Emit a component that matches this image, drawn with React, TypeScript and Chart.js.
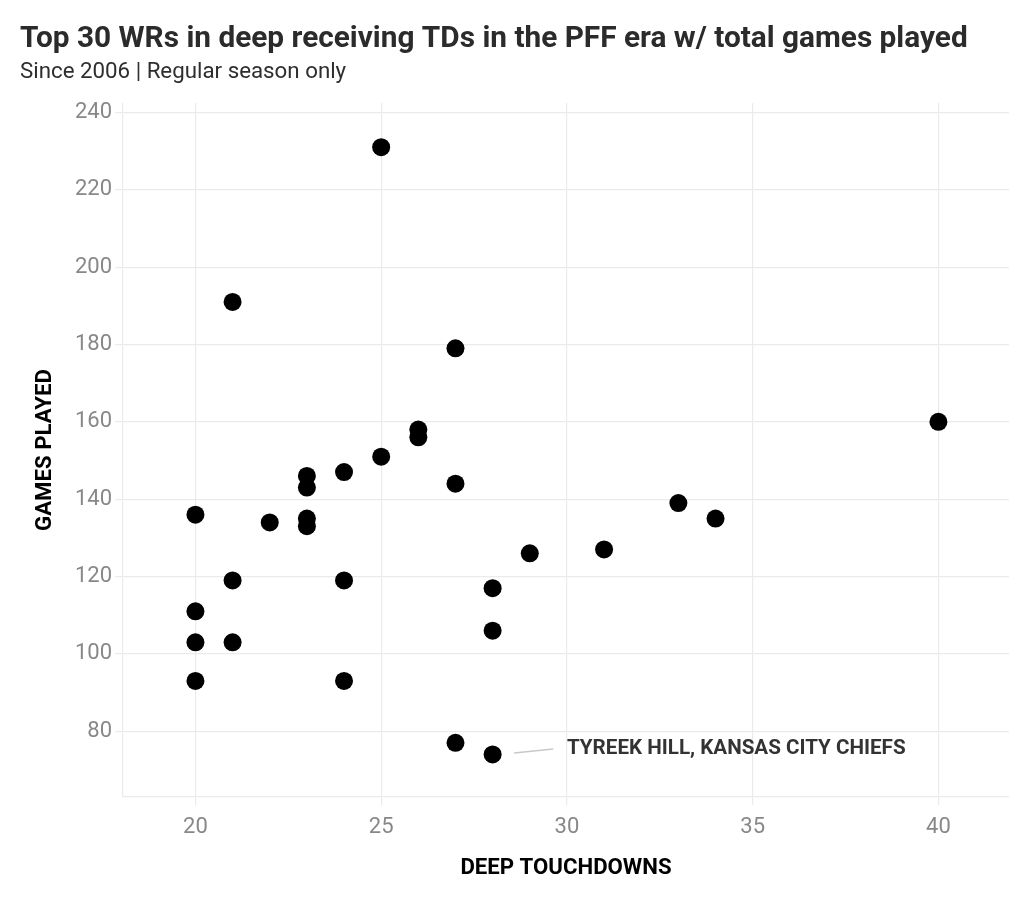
import React, { useEffect, useRef } from "react";
import { Chart, registerables } from "chart.js";

Chart.register(...registerables);

const TITLE = "Top 30 WRs in deep receiving TDs in the PFF era w/ total games played";
const SUBTITLE = "Since 2006 | Regular season only";
const X_LABEL = "DEEP TOUCHDOWNS";
const Y_LABEL = "GAMES PLAYED";

const deepTouchdowns = [25, 21, 27, 40, 26, 26, 25, 24, 23, 23, 27, 33, 20, 23, 34, 22, 23, 31, 29, 21, 24, 28, 20, 28, 20, 21, 20, 24, 27, 28];
const gamesPlayed = [231, 191, 179, 160, 158, 156, 151, 147, 146, 143, 144, 139, 136, 135, 135, 134, 133, 127, 126, 119, 119, 117, 111, 106, 103, 103, 93, 93, 77, 74];

const xTicks = [20, 25, 30, 35, 40];
const yTicks = [80, 100, 120, 140, 160, 180, 200, 220, 240];

const annotationText = "TYREEK HILL, KANSAS CITY CHIEFS";
const annotationPoint = { x: 30, y: 75.4 };
const annotationLine = [
  { x: 28.58, y: 74.4 },
  { x: 29.63, y: 75.4 },
];

const FONT = "Roboto, 'Noto Sans', sans-serif";
const GRID = "#ebebeb";

const annotationPlugin = {
  id: "hillLabel",
  afterDatasetsDraw(chart: any) {
    const { ctx, scales } = chart;
    const xs = scales.x;
    const ys = scales.y;
    ctx.save();
    ctx.strokeStyle = "#c8c8c8";
    ctx.lineWidth = 1.5;
    ctx.beginPath();
    ctx.moveTo(xs.getPixelForValue(annotationLine[0].x), ys.getPixelForValue(annotationLine[0].y));
    ctx.lineTo(xs.getPixelForValue(annotationLine[1].x), ys.getPixelForValue(annotationLine[1].y));
    ctx.stroke();
    ctx.fillStyle = "#333333";
    ctx.font = `bold 20.6px ${FONT}`;
    ctx.textAlign = "left";
    ctx.textBaseline = "middle";
    ctx.fillText(annotationText, xs.getPixelForValue(annotationPoint.x), ys.getPixelForValue(annotationPoint.y));
    ctx.restore();
  },
};

export default function App() {
  const canvasRef = useRef<HTMLCanvasElement | null>(null);

  useEffect(() => {
    document.body.style.margin = "0";
    const canvas = canvasRef.current;
    if (!canvas) return;
    const chart = new Chart(canvas, {
      type: "scatter",
      data: {
        datasets: [
          {
            label: "WRs",
            data: deepTouchdowns.map((x, i) => ({ x, y: gamesPlayed[i] })),
            backgroundColor: "#000000",
            borderWidth: 0,
            pointRadius: 9,
            pointHoverRadius: 9,
          },
        ],
      },
      options: {
        animation: false,
        responsive: false,
        devicePixelRatio: 1,
        layout: { padding: { left: 20, right: 15, top: 0, bottom: 0 } },
        plugins: {
          legend: { display: false },
          tooltip: { enabled: false },
          title: {
            display: true,
            text: TITLE,
            align: "start",
            color: "#2b2b2b",
            font: { family: FONT, size: 29.8, weight: "bold", lineHeight: 1.2 },
            padding: { top: 21.3, bottom: 0 },
          },
          subtitle: {
            display: true,
            text: SUBTITLE,
            align: "start",
            color: "#2e2e2e",
            font: { family: FONT, size: 22.3, weight: "normal", lineHeight: 1.2 },
            padding: { top: 2.3, bottom: 17 },
          },
        },
        scales: {
          x: {
            type: "linear",
            min: 18.05,
            max: 41.9,
            afterBuildTicks: (axis: any) => {
              axis.ticks = xTicks.map((v) => ({ value: v }));
            },
            afterFit: (axis: any) => {
              axis.height = 113;
            },
            grid: { color: GRID, lineWidth: 1.2, tickLength: 8, tickColor: GRID },
            border: { display: true, color: GRID, width: 1.2 },
            ticks: {
              color: "#888888",
              padding: 9,
              maxRotation: 0,
              font: { family: FONT, size: 22 },
            },
            title: {
              display: true,
              text: X_LABEL,
              color: "#000000",
              font: { family: FONT, size: 22.2, weight: "bold", lineHeight: 1.2 },
              padding: { top: 0, bottom: 27.8 },
            },
          },
          y: {
            type: "linear",
            min: 63,
            max: 242.4,
            afterBuildTicks: (axis: any) => {
              axis.ticks = yTicks.map((v) => ({ value: v }));
            },
            afterFit: (axis: any) => {
              axis.width = 103;
            },
            grid: { color: GRID, lineWidth: 1.2, tickLength: 8, tickColor: GRID },
            border: { display: true, color: GRID, width: 1.2 },
            ticks: {
              color: "#888888",
              padding: 3,
              font: { family: FONT, size: 22 },
            },
            title: {
              display: true,
              text: Y_LABEL,
              color: "#000000",
              font: { family: FONT, size: 22.2, weight: "bold", lineHeight: 1.2 },
              padding: { top: 11.8, bottom: 0 },
            },
          },
        },
      },
      plugins: [annotationPlugin],
    });
    return () => chart.destroy();
  }, []);

  return (
    <div style={{ width: 1024, height: 910, background: "#ffffff" }}>
      <canvas ref={canvasRef} width={1024} height={910} style={{ display: "block", width: 1024, height: 910 }} />
    </div>
  );
}
